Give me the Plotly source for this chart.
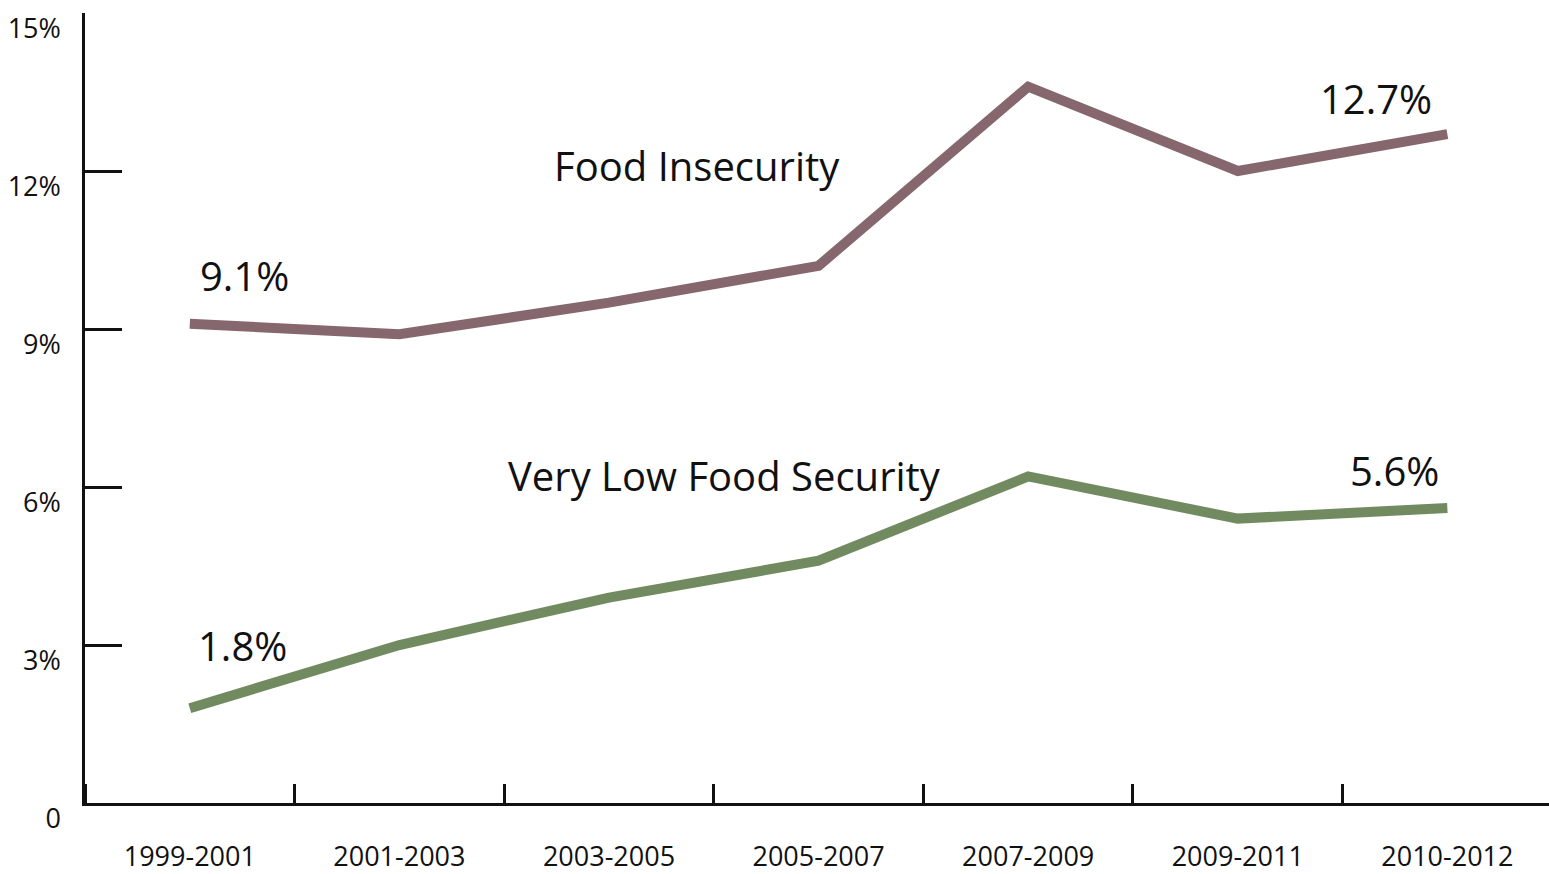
import plotly.graph_objects as go

categories = ["1999-2001", "2001-2003", "2003-2005", "2005-2007", "2007-2009", "2009-2011", "2010-2012"]
food_insecurity = [9.1, 8.9, 9.5, 10.2, 13.6, 12.0, 12.7]
very_low_food_security = [1.8, 3.0, 3.9, 4.6, 6.2, 5.4, 5.6]
y_ticks = [0, 3, 6, 9, 12, 15]
y_tick_labels = ["0", "3%", "6%", "9%", "12%", "15%"]

FONT = "Open Sans"
MAUVE = "#85676D"
GREEN = "#728A60"

xs = list(range(len(categories)))

fig = go.Figure()
fig.add_trace(go.Scatter(x=xs, y=food_insecurity, mode="lines",
                         line=dict(color=MAUVE, width=10), name="Food Insecurity",
                         hoverinfo="skip"))
fig.add_trace(go.Scatter(x=xs, y=very_low_food_security, mode="lines",
                         line=dict(color=GREEN, width=10), name="Very Low Food Security",
                         hoverinfo="skip"))

ann_font = dict(family=FONT, size=40, color="#111111")
annotations = [
    dict(x=0.26, y=10.02, text=f"{food_insecurity[0]}%"),
    dict(x=0.25, y=2.99, text=f"{very_low_food_security[0]}%"),
    dict(x=5.66, y=13.37, text=f"{food_insecurity[-1]}%"),
    dict(x=5.75, y=6.32, text=f"{very_low_food_security[-1]}%"),
    dict(x=2.42, y=12.1, text="Food Insecurity"),
    dict(x=2.55, y=6.22, text="Very Low Food Security"),
]
for a in annotations:
    a.update(xref="x", yref="y", showarrow=False, font=ann_font,
             xanchor="center", yanchor="middle")

fig.update_layout(
    width=1549, height=874,
    margin=dict(l=85, r=0, t=13, b=66),
    paper_bgcolor="white", plot_bgcolor="white",
    showlegend=False,
    annotations=annotations,
    xaxis=dict(
        range=[-0.5, 6.485],
        tickmode="array", tickvals=xs, ticktext=categories,
        ticks="", showgrid=False, zeroline=False,
        showline=True, linecolor="#111111", linewidth=2.5,
        tickfont=dict(family=FONT, size=27, color="#111111"),
        ticklabelstandoff=28,
        minor=dict(ticks="inside", tick0=0.5, dtick=1, ticklen=19,
                   tickwidth=2.5, tickcolor="#111111", showgrid=False),
        fixedrange=True,
    ),
    yaxis=dict(
        range=[0, 15],
        tickmode="array", tickvals=y_ticks, ticktext=y_tick_labels,
        ticks="inside", ticklen=37, tickwidth=2.5, tickcolor="#111111",
        showgrid=False, zeroline=False,
        showline=True, linecolor="#111111", linewidth=2.5,
        tickfont=dict(family=FONT, size=27, color="#111111"),
        ticklabelstandoff=16, ticklabelshift=16,
        fixedrange=True,
    ),
)

fig.write_html("out.html", config={"displayModeBar": False})
